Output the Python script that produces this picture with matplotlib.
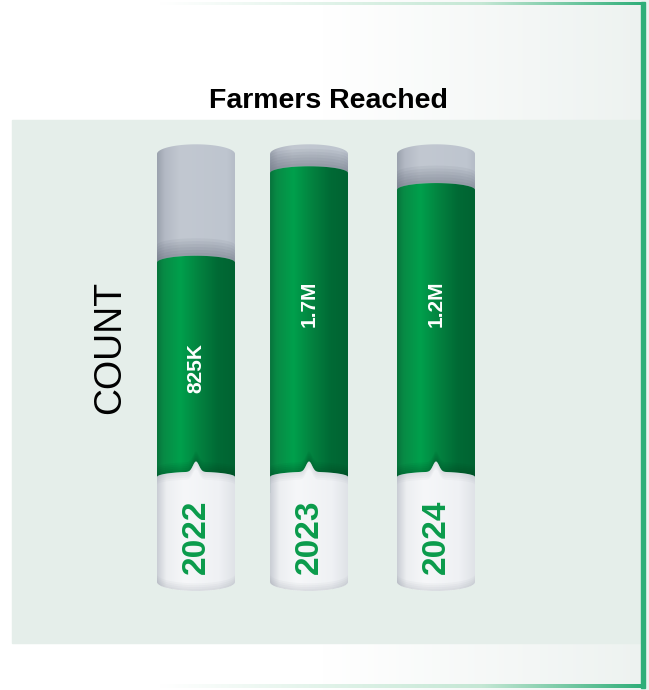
import numpy as np
import matplotlib
matplotlib.use('Agg')
import matplotlib.pyplot as plt
from matplotlib.colors import LinearSegmentedColormap
from matplotlib.patches import Polygon, Rectangle

# data
years = ['2022', '2023', '2024']
values = [825_000, 1_700_000, 1_200_000]
value_labels = ['825K', '1.7M', '1.2M']
fill_pct = [66.4, 94.1, 88.9]     # how full each cylinder is drawn

plt.rcParams['font.family'] = ['Liberation Sans', 'DejaVu Sans']

W, H = 649, 690
fig = plt.figure(figsize=(W / 100, H / 100), dpi=100)

grad = np.linspace(0, 1, 256)[None, :]


def cmap(name, stops):
    return LinearSegmentedColormap.from_list(name, stops)


# ---- background (pixel coordinates) ----
bg = fig.add_axes([0, 0, 1, 1])
bg.axis('off')
bg.imshow(grad, cmap=cmap('bg', ['#ffffff', '#ffffff', '#edf2f0']),
          extent=(0, W, H, 0), aspect='auto', zorder=0)
bg.add_patch(Rectangle((12, 120), 629, 523, color='#e5eeea', zorder=1))
border = cmap('border', [(0, '#ffffff'), (0.25, '#ffffff'), (0.75, '#c4e7d4'), (1, '#2fae79')])
bg.imshow(grad, cmap=border, extent=(0, 644, 5, 2), aspect='auto', zorder=2)
bg.imshow(grad, cmap=border, extent=(0, 644, 688, 684), aspect='auto', zorder=2)
bg.add_patch(Rectangle((641, 2), 3.5, 686, color='#2fae79', zorder=3))
bg.set_xlim(0, W)
bg.set_ylim(H, 0)

bg.text(328, 101, 'Farmers Reached', ha='center', va='center',
        fontsize=20.5, fontweight='bold', color='black')
bg.text(110, 347, 'COUNT', ha='center', va='center', rotation=90,
        fontsize=27, color='black')

# ---- cylinders (x = category index, y = percent filled) ----
ax = fig.add_axes([0, 0, 1, 1])
ax.axis('off')
ax.patch.set_alpha(0)
px_x, px_y = 120, 3.23
x0_px, y0_px = 196, 477
x_nudge = [0.0, -0.058, 0.0]
label_y = [33.7, 53.6, 53.6]
half = 0.325
ry_top, ry_fill, ry_white, ry_bot = 3.0, 2.1, 1.6, 2.8
white_bottom = -32.5

green_cm = cmap('green', [(0, '#06743c'), (0.08, '#088a45'), (0.3, '#00a04c'),
                          (0.55, '#03813f'), (0.78, '#006a35'), (1, '#006332')])
gray_cm = cmap('gray', [(0, '#9aa1ad'), (0.1, '#b3b9c4'), (0.3, '#c2c8d1'),
                        (0.9, '#bec5cf'), (1, '#b5bcc7')])
white_cm = cmap('white', [(0, '#c9cdd4'), (0.12, '#eceef1'), (0.35, '#f6f7f9'),
                          (0.8, '#eff1f4'), (1, '#dfe2e7')])


def arc(cx, yc, ry, t0, t1, n=80):
    t = np.linspace(t0, t1, n)
    return np.column_stack([cx + half * np.cos(t), yc + ry * np.sin(t)])


def white_top(cx, n=240):
    x = np.linspace(cx - half, cx + half, n)
    u = np.clip((x - cx) / half, -1, 1)
    y = ry_white * np.sqrt(1 - u ** 2) + 3.2 * np.exp(-((x - cx) / 0.036) ** 2)
    return np.column_stack([x, y])


def shaded(points, cm, cx, ylo, yhi, z):
    poly = Polygon(points, closed=True, facecolor='none', edgecolor='none', zorder=z)
    ax.add_patch(poly)
    im = ax.imshow(grad, cmap=cm, extent=(cx - half, cx + half, ylo, yhi),
                   aspect='auto', zorder=z, interpolation='bilinear')
    im.set_clip_path(poly)
    return poly


def bands(lower, shift, color, alpha, steps, z, clip):
    # stacked translucent bands so the shade gets darker toward one edge
    for k in range(1, steps + 1):
        top = lower.copy()
        top[:, 1] += shift * k
        pts = np.vstack([lower, top[::-1]])
        p = Polygon(pts, closed=True, facecolor=color, edgecolor='none',
                    alpha=alpha, zorder=z)
        ax.add_patch(p)
        p.set_clip_path(clip)


for i, (year, lab, pct) in enumerate(zip(years, value_labels, fill_pct)):
    cx = i + x_nudge[i]

    # empty glass
    gray_pts = np.vstack([[[cx - half, -5], [cx + half, -5]],
                          arc(cx, 100, ry_top, 0, np.pi)])
    gray = shaded(gray_pts, gray_cm, cx, -5, 100 + ry_top, 2)
    bands(arc(cx, pct, ry_fill, 0, np.pi), 0.9, '#4f5767', 0.07, 6, 3, gray)

    # green fill
    green_pts = np.vstack([[[cx - half, -5], [cx + half, -5]],
                           arc(cx, pct, ry_fill, 0, np.pi)])
    green = shaded(green_pts, green_cm, cx, -5, pct + ry_fill, 4)
    bands(white_top(cx), 0.6, '#00331a', 0.06, 5, 5, green)

    # white base with year
    wt = white_top(cx)
    white_pts = np.vstack([wt, arc(cx, white_bottom, ry_bot, 0, -np.pi)])
    white = shaded(white_pts, white_cm, cx, white_bottom - ry_bot, 5, 6)
    bands(wt, -0.6, '#8a909c', 0.05, 4, 7, white)
    bands(arc(cx, white_bottom, ry_bot, 0, -np.pi), 0.6, '#8a909c', 0.06, 4, 7, white)

    ax.text(cx, label_y[i], lab, ha='center', va='center', rotation=90,
            fontsize=15, fontweight='bold', color='white', zorder=8)
    ax.text(cx, -18.6, year, ha='center', va='center', rotation=90,
            fontsize=24, fontweight='bold', color='#0a9b4b', zorder=8)

ax.set_xlim(-x0_px / px_x, (W - x0_px) / px_x)
ax.set_ylim(-(H - y0_px) / px_y, y0_px / px_y)

fig.savefig('out.png', dpi=100)
